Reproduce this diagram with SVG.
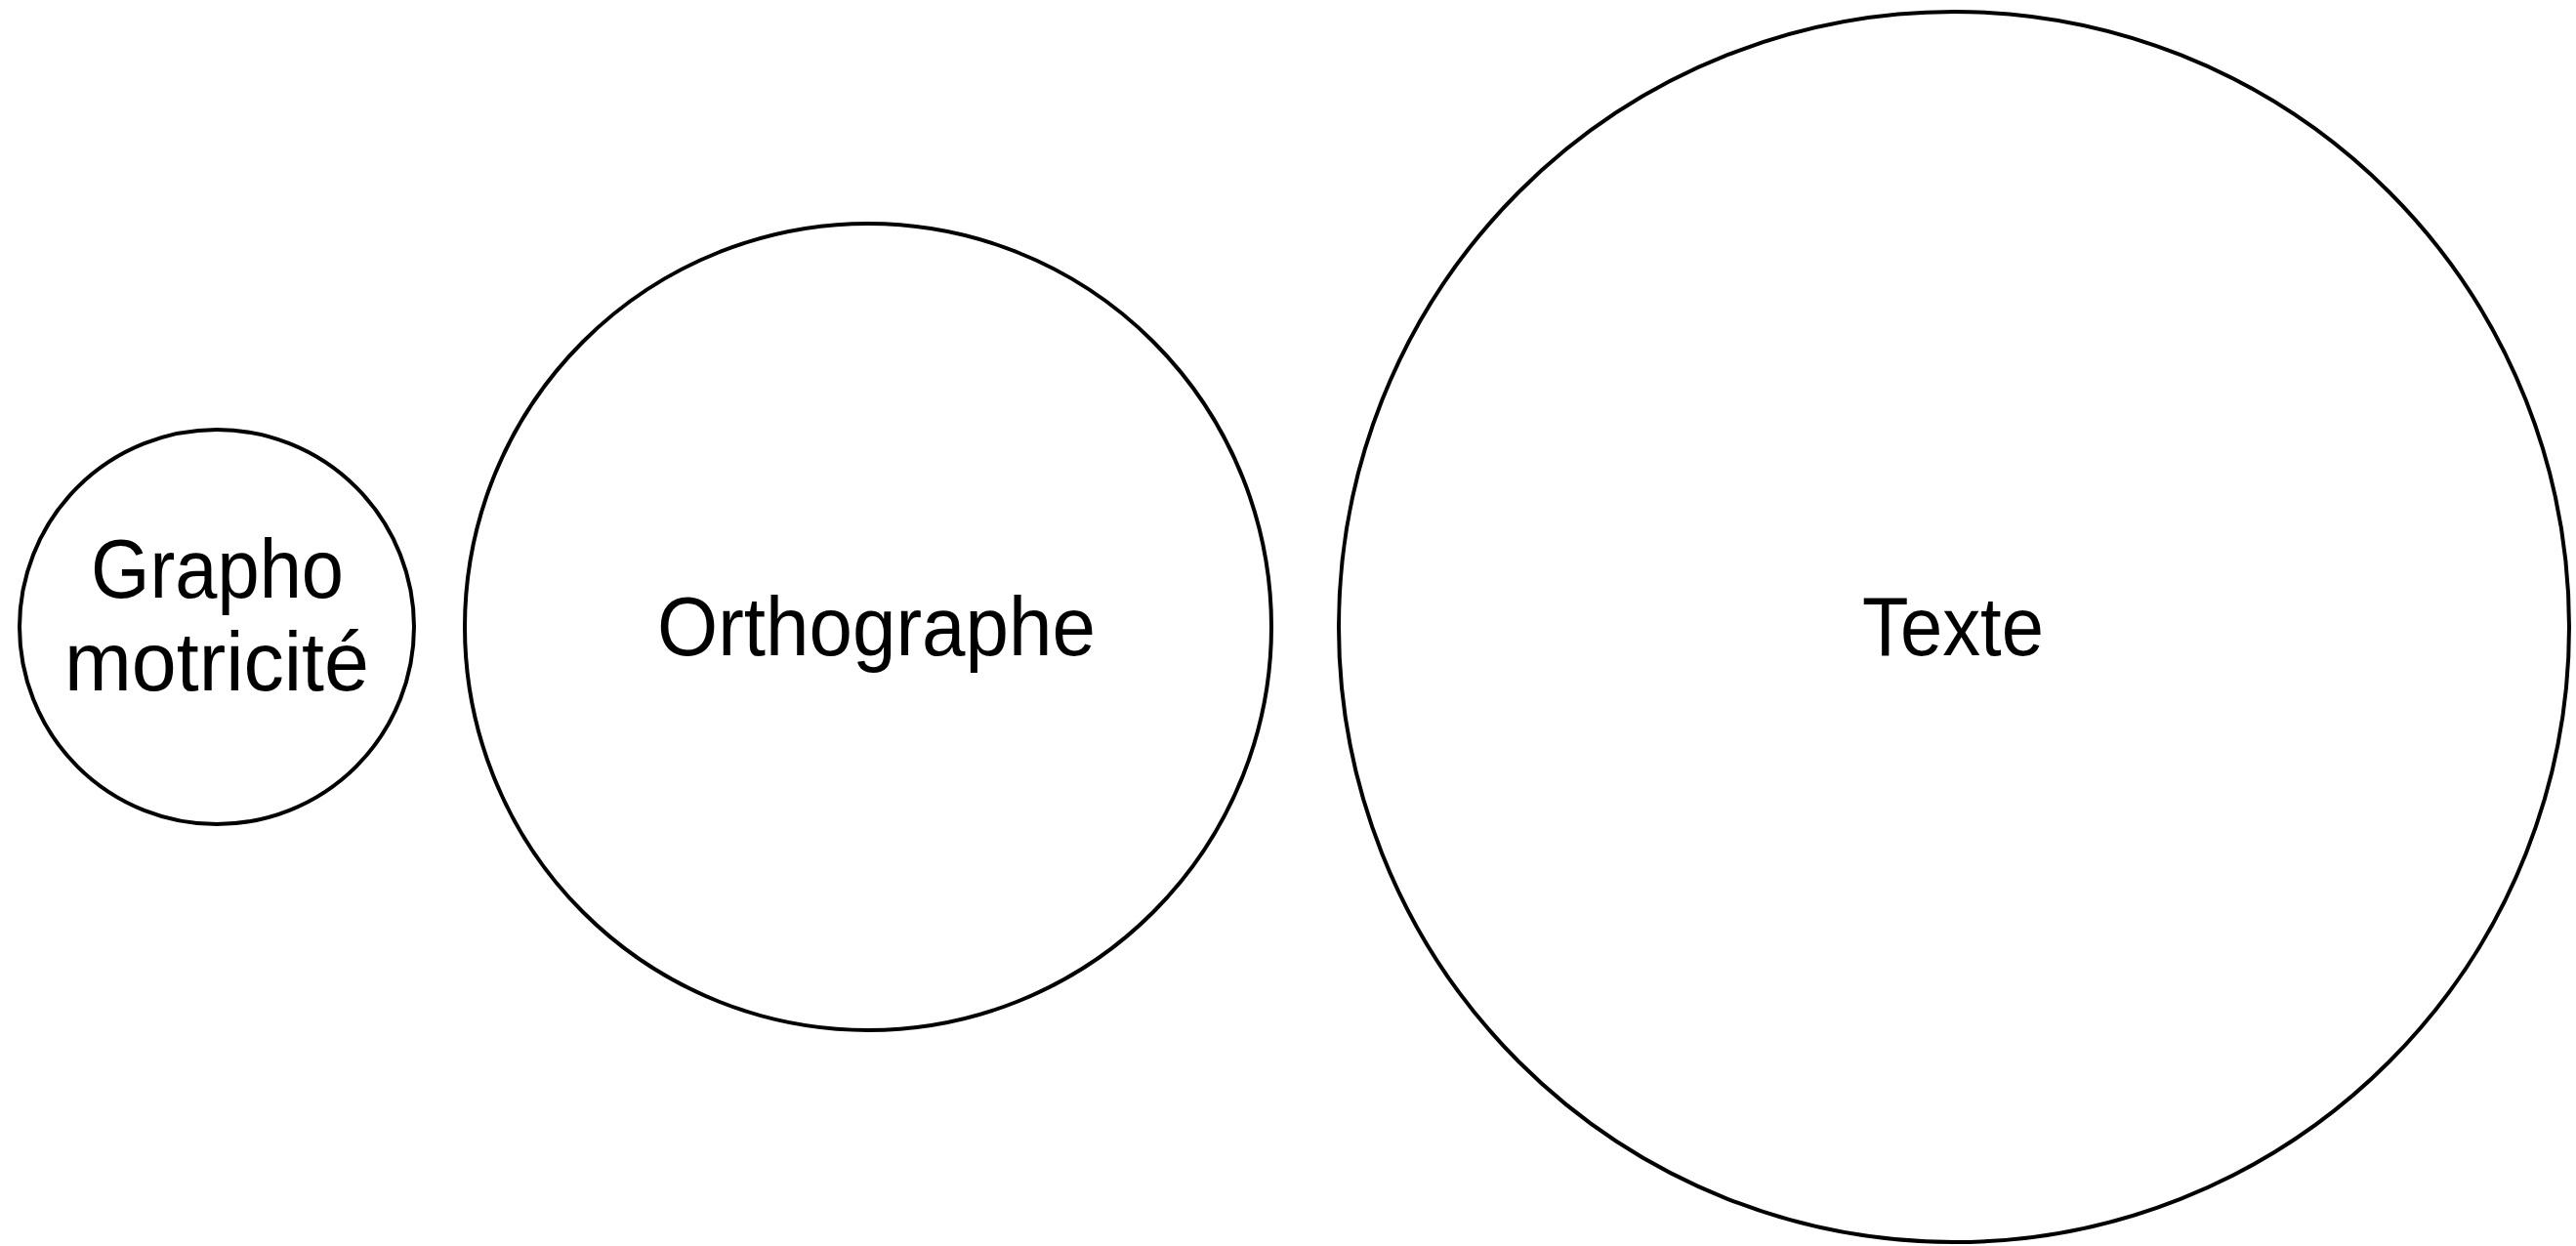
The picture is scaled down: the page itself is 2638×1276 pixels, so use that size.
<svg xmlns="http://www.w3.org/2000/svg" width="2638" height="1276" viewBox="0 0 2638 1276">
<style>
.c{fill:#fff;stroke:#000;stroke-width:4}
.t{font-family:"Liberation Sans",Arial,sans-serif;font-size:85px;fill:#000;text-anchor:middle}
</style>
<rect width="2638" height="1276" fill="#fff"/>
<g id="connectors"/>
<g id="graphomotricite">
<circle class="c" cx="222" cy="642" r="202"/>
<text class="t" x="222.5" y="612" textLength="259" lengthAdjust="spacingAndGlyphs">Grapho</text>
<text class="t" x="222" y="707" textLength="312" lengthAdjust="spacingAndGlyphs">motricité</text>
</g>
<g id="orthographe">
<circle class="c" cx="889" cy="642" r="413"/>
<text class="t" x="897.5" y="671" textLength="449" lengthAdjust="spacingAndGlyphs">Orthographe</text>
</g>
<g id="texte">
<circle class="c" cx="2001" cy="642" r="630"/>
<text class="t" x="2000" y="671" textLength="186" lengthAdjust="spacingAndGlyphs">Texte</text>
</g>
</svg>
